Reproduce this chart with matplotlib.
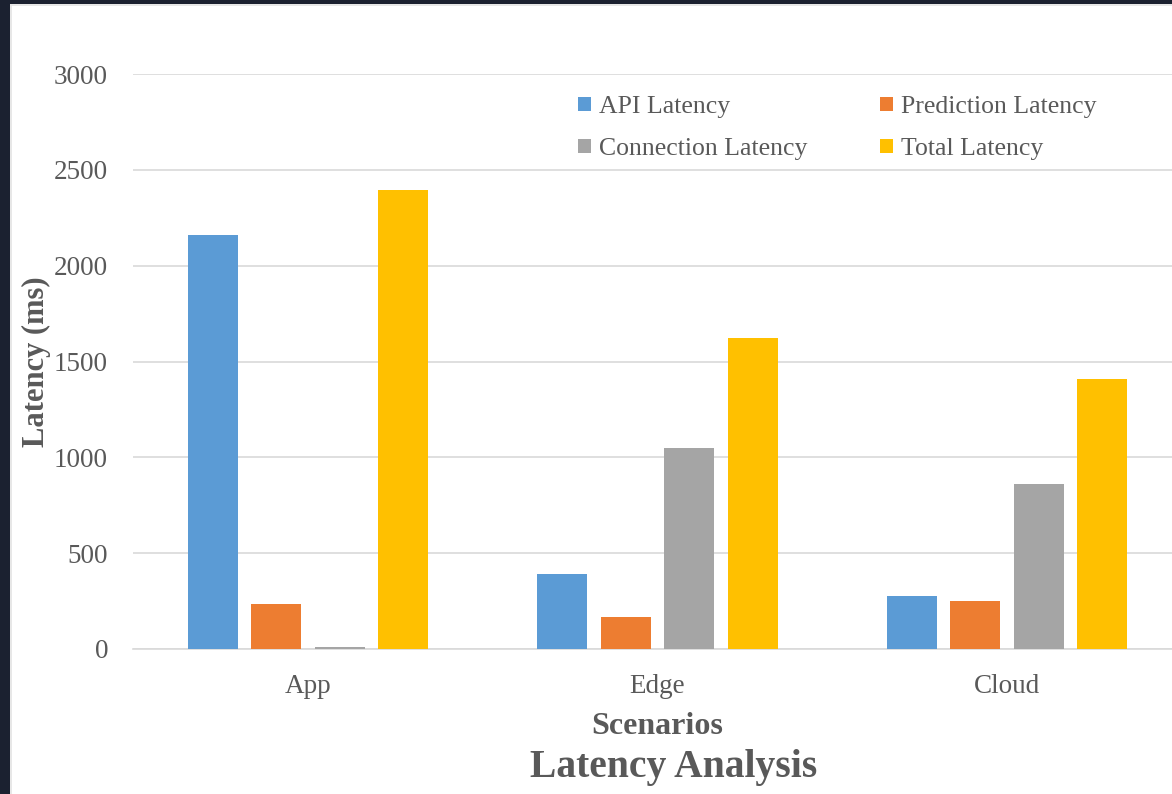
import matplotlib
matplotlib.use("Agg")
import matplotlib.pyplot as plt
import numpy as np
from matplotlib.patches import Rectangle
from matplotlib.lines import Line2D

scenarios = ["App", "Edge", "Cloud"]
series_names = ["API Latency", "Prediction Latency", "Connection Latency", "Total Latency"]
api_latency = [2160, 391, 277]
prediction_latency = [235, 167, 250]
connection_latency = [10, 1049, 861]
total_latency = [2395, 1623, 1409]
yticks = [0, 500, 1000, 1500, 2000, 2500, 3000]

colors = ["#5b9bd5", "#ed7d31", "#a5a5a5", "#ffc000"]
text_gray = "#595959"
grid_gray = "#d9d9d9"
frame_dark = "#1b2130"

plt.rcParams["font.family"] = ["Liberation Serif", "DejaVu Serif"]

W, H = 1172, 794
fig = plt.figure(figsize=(W / 100, H / 100), dpi=100, facecolor="white")

# dark frame along the top and left edges, with a thin light rule inside
fig.patches.append(Rectangle((0, 1 - 4 / H), 1, 4 / H, transform=fig.transFigure,
                             facecolor=frame_dark, edgecolor="none", zorder=-1))
fig.patches.append(Rectangle((0, 0), 10 / W, 1, transform=fig.transFigure,
                             facecolor=frame_dark, edgecolor="none", zorder=-1))
fig.lines.append(Line2D([10.5 / W, 1], [1 - 5 / H, 1 - 5 / H], transform=fig.transFigure,
                        color="#e3e3e3", linewidth=1.2, zorder=-1))
fig.lines.append(Line2D([11 / W, 11 / W], [0, 1 - 4 / H], transform=fig.transFigure,
                        color="#e3e3e3", linewidth=1.2, zorder=-1))

ax = fig.add_axes([133 / W, 1 - 649 / H, (1182 - 133) / W, (649 - 74) / H])
ax.set_facecolor("none")

x = np.arange(len(scenarios))
data = [api_latency, prediction_latency, connection_latency, total_latency]
pitch = 63.5 / 349.5
width = 50 / 349.5
bars = []
for i, (vals, name, c) in enumerate(zip(data, series_names, colors)):
    bars.append(ax.bar(x + (i - 1.5) * pitch, vals, width, color=c, label=name, zorder=3))

ax.set_xlim(-0.5, 2.5)
ax.set_ylim(0, 3000)
ax.set_yticks(yticks)
ax.set_xticks(x)
ax.set_xticklabels(scenarios)
ax.yaxis.grid(True, color=grid_gray, linewidth=1.2, zorder=0)
ax.set_axisbelow(True)
for s in ["top", "right", "left"]:
    ax.spines[s].set_visible(False)
ax.spines["bottom"].set_color(grid_gray)
ax.spines["bottom"].set_linewidth(1.2)
ax.tick_params(axis="both", length=0, labelsize=19.5, labelcolor=text_gray)
ax.tick_params(axis="y", pad=18)
ax.tick_params(axis="x", pad=18)

ax.set_xlabel("Scenarios", fontsize=23, fontweight="bold", color=text_gray, labelpad=9)
ax.set_ylabel("Latency (ms)", fontsize=22, fontweight="bold", color=text_gray, labelpad=2)

fig.text(674 / W, 1 - 767 / H, "Latency Analysis", ha="center", va="center",
         fontsize=28.5, fontweight="bold", color=text_gray)

# row-wise legend: API, Prediction / Connection, Total
order = [0, 2, 1, 3]
leg = ax.legend([bars[k] for k in order], [series_names[k] for k in order],
                ncol=2, loc="upper left", bbox_to_anchor=((578 - 133) / 1049, (649 - 96) / 575),
                frameon=False, fontsize=18.5, borderpad=0, borderaxespad=0,
                handlelength=0.5, handleheight=0.5, handletextpad=0.3,
                columnspacing=2.85, labelspacing=0.78)
for t in leg.get_texts():
    t.set_color(text_gray)

fig.savefig("out.png", dpi=100)
